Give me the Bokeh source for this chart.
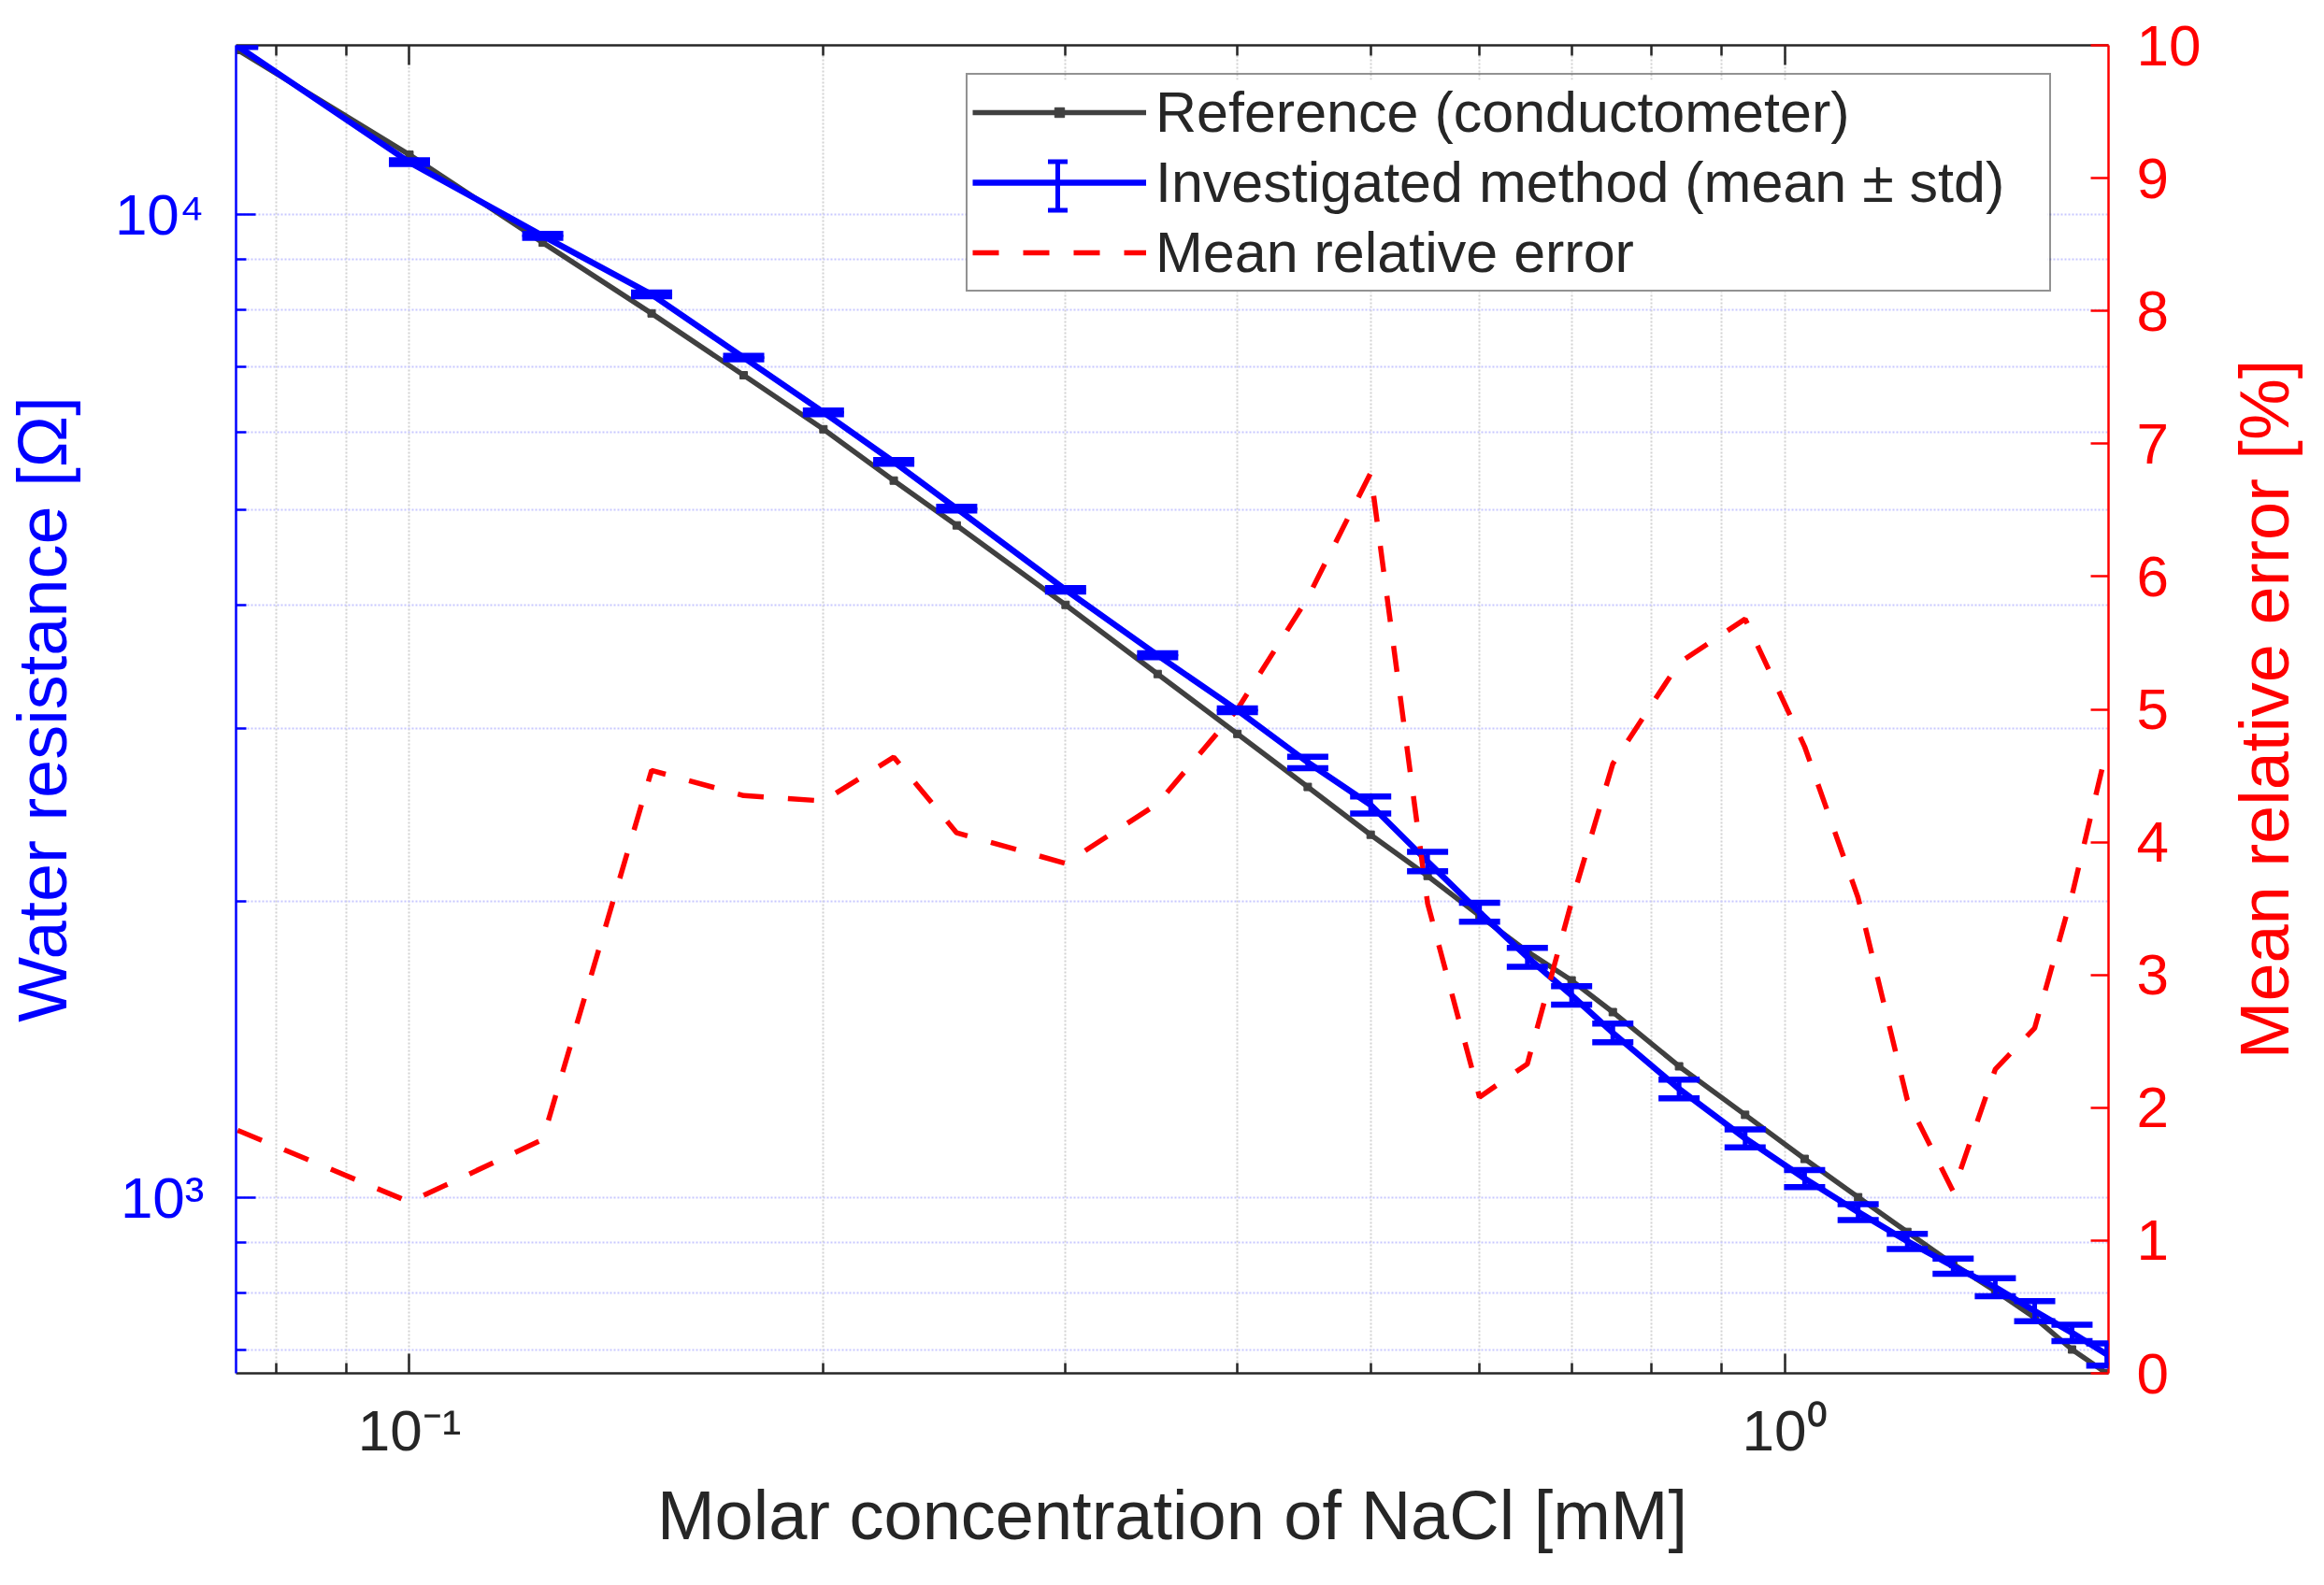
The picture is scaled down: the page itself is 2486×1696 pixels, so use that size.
import math
from bokeh.plotting import figure
from bokeh.layouts import row
from bokeh.models import (Range1d, LinearAxis, LogAxis, LinearScale, FixedTicker, Legend,
                          LegendItem, Whisker, TeeHead, ColumnDataSource, BoxAnnotation)
from bokeh.embed import file_html
from bokeh.resources import INLINE

# ---------------- data ----------------
conc_mM = [0.075, 0.100, 0.125, 0.150, 0.175, 0.200, 0.225, 0.250, 0.300, 0.350,
           0.400, 0.450, 0.500, 0.550, 0.600, 0.650, 0.700, 0.750, 0.838, 0.936,
           1.034, 1.131, 1.228, 1.326, 1.423, 1.520, 1.618, 1.715]
ref_ohm = [14700, 11500, 9360, 7930, 6860, 6045, 5360, 4826, 4006, 3407,
           2961, 2615, 2338, 2123, 1934, 1778, 1662, 1543, 1359, 1213,
           1094, 1000, 922, 855, 803, 754, 700, 662]
inv_mean_ohm = [14830, 11300, 9510, 8290, 7150, 6290, 5600, 5020, 4150, 3560,
                3130, 2770, 2507, 2196, 1950, 1755, 1605, 1470, 1289, 1148,
                1045, 966, 902, 851, 810, 766, 728, 692]
inv_std_ohm = [30, 50, 42, 36, 31, 28, 25, 22, 18, 16,
               14, 37, 50, 50, 43, 39, 35, 32, 28, 24,
               21, 18, 16, 15, 17, 18, 14, 18]
rel_err_pct = [1.83, 1.29, 1.76, 4.54, 4.35, 4.31, 4.64, 4.07, 3.84, 4.29,
               5.00, 5.84, 6.78, 3.54, 2.08, 2.33, 3.55, 4.59, 5.35, 5.68,
               4.72, 3.58, 2.06, 1.37, 2.29, 2.60, 3.60, 4.70]

x_major = [0.1, 1]
x_minor = [0.08, 0.09, 0.2, 0.3, 0.4, 0.5, 0.6, 0.7, 0.8, 0.9]
y_major = [1000, 10000]
y_minor = [700, 800, 900, 2000, 3000, 4000, 5000, 6000, 7000, 8000, 9000]
err_ticks = list(range(0, 11))
x_tick_labels = {0.1: "10\u207b\u00b9", 1: "10\u2070"}
y_tick_labels = {1000: "10\u00b3", 10000: "10\u2074"}

series_labels = ["Reference (conductometer)",
                 "Investigated method (mean \u00b1 std)",
                 "Mean relative error"]
x_title = "Molar concentration of NaCl [mM]"
y_title = "Water resistance [\u03a9]"
y2_title = "Mean relative error [%]"

# ---------------- styling ----------------
FONT = "Liberation Sans"
DARK = "#262626"
BLUE = "#0000ff"
RED = "#ff0000"
GRAY = "#404040"
TICK_FS = "62px"
LABEL_FS = "74px"
FIG_H = 1688
TOP_B = 48
BOT_B = 219

p = figure(width=2358, height=FIG_H, x_axis_type="log", y_axis_type="log",
           x_range=Range1d(0.0748, 1.72), y_range=Range1d(662, 14860),
           output_backend="svg", toolbar_location=None,
           min_border_left=249, min_border_right=103,
           min_border_top=TOP_B, min_border_bottom=BOT_B)
p.extra_y_ranges = {"err": Range1d(0, 10)}
p.extra_y_scales = {"err": LinearScale()}
p.outline_line_color = None
p.background_fill_color = "white"
p.border_fill_color = "white"

xt = FixedTicker(ticks=x_major, minor_ticks=x_minor)
yt = FixedTicker(ticks=y_major, minor_ticks=y_minor)


def style_axis(ax, color, tick_in=21, minor_in=11):
    ax.axis_line_color = color
    ax.axis_line_width = 2.5
    ax.major_tick_line_color = color
    ax.major_tick_line_width = 2.5
    ax.minor_tick_line_color = color
    ax.minor_tick_line_width = 2.5
    ax.major_tick_in = tick_in
    ax.major_tick_out = 0
    ax.minor_tick_in = minor_in
    ax.minor_tick_out = 0
    ax.major_label_text_color = color
    ax.major_label_text_font = FONT
    ax.major_label_text_font_size = TICK_FS
    ax.axis_label_text_color = color
    ax.axis_label_text_font = FONT
    ax.axis_label_text_font_size = LABEL_FS
    ax.axis_label_text_font_style = "normal"


# bottom x axis
xa = p.xaxis[0]
xa.ticker = xt
xa.major_label_overrides = x_tick_labels
xa.axis_label = x_title
style_axis(xa, DARK)
xa.major_label_standoff = 26
xa.axis_label_standoff = 12

# top x axis (box)
ta = LogAxis(ticker=xt)
style_axis(ta, DARK)
ta.major_label_text_alpha = 0
ta.major_label_text_font_size = "1px"
ta.major_label_standoff = 0
p.add_layout(ta, "above")

# left y axis
ya = p.yaxis[0]
ya.ticker = yt
ya.major_label_overrides = y_tick_labels
ya.axis_label = y_title
style_axis(ya, BLUE)
ya.major_label_standoff = 34
ya.axis_label_standoff = 33

# right y axis (ticks and numbers)
ra = LinearAxis(y_range_name="err", ticker=FixedTicker(ticks=err_ticks, minor_ticks=[]))
style_axis(ra, RED, tick_in=19, minor_in=0)
ra.major_label_standoff = 30
p.add_layout(ra, "right")

# grids
p.xgrid.ticker = xt
p.ygrid.ticker = yt
for g, c in ((p.xgrid, "#d2d2d2"), (p.ygrid, "#c8c8ff")):
    g.grid_line_color = c
    g.grid_line_width = 2
    g.grid_line_dash = "2 2"
    g.minor_grid_line_color = c
    g.minor_grid_line_width = 2
    g.minor_grid_line_dash = "2 2"

# ---------------- data renderers ----------------
gray_line = p.line(conc_mM, ref_ohm, line_color=GRAY, line_width=5.5)
gray_pts = p.scatter(conc_mM, ref_ohm, marker="square", size=8,
                     fill_color=GRAY, line_color=GRAY)
blue_line = p.line(conc_mM, inv_mean_ohm, line_color=BLUE, line_width=6.5)

err_src = ColumnDataSource(dict(
    x=conc_mM,
    upper=[m + s for m, s in zip(inv_mean_ohm, inv_std_ohm)],
    lower=[m - s for m, s in zip(inv_mean_ohm, inv_std_ohm)],
))
wh = Whisker(source=err_src, base="x", upper="upper", lower="lower",
             dimension="height", line_color=BLUE, line_width=5,
             upper_head=TeeHead(size=44, line_color=BLUE, line_width=6.5),
             lower_head=TeeHead(size=44, line_color=BLUE, line_width=6.5),
             level="annotation")
p.add_layout(wh)

red_line = p.line(conc_mM, rel_err_pct, line_color=RED, line_width=5.5,
                  line_dash="28 26", y_range_name="err")

# ---------------- legend ----------------
LG_X, LG_Y = 781, 1157
LG_PAD, LG_ITEM_H, LG_SPACING, LG_GLYPH_W, LG_STANDOFF, LG_LABEL_W = 5, 69, 5, 186, 10, 951
lg_h = 2 * LG_PAD + 3 * LG_ITEM_H + 2 * LG_SPACING
lg_w = 2 * LG_PAD + LG_GLYPH_W + LG_STANDOFF + LG_LABEL_W

# white legend background
p.add_layout(BoxAnnotation(left=LG_X, right=LG_X + lg_w, bottom=LG_Y, top=LG_Y + lg_h,
                           left_units="screen", right_units="screen",
                           bottom_units="screen", top_units="screen",
                           fill_color="white", fill_alpha=1.0, line_alpha=0))

# error-bar icon for the second legend entry
icon_x = LG_X + LG_PAD + LG_GLYPH_W / 2
icon_y = LG_Y + lg_h - LG_PAD - LG_ITEM_H - LG_SPACING - LG_ITEM_H / 2
icon_src = ColumnDataSource(dict(x=[icon_x], upper=[icon_y + 26], lower=[icon_y - 26]))
p.add_layout(Whisker(source=icon_src, base="x", upper="upper", lower="lower",
                     base_units="screen", upper_units="screen", lower_units="screen",
                     dimension="height", line_color=BLUE, line_width=5,
                     upper_head=TeeHead(size=21, line_color=BLUE, line_width=5),
                     lower_head=TeeHead(size=21, line_color=BLUE, line_width=5),
                     level="annotation"))

leg = Legend(items=[LegendItem(label=series_labels[0], renderers=[gray_line, gray_pts]),
                    LegendItem(label=series_labels[1], renderers=[blue_line]),
                    LegendItem(label=series_labels[2], renderers=[red_line])],
             location=(LG_X, LG_Y), orientation="vertical",
             padding=LG_PAD, spacing=LG_SPACING, margin=0,
             glyph_width=LG_GLYPH_W, glyph_height=26, label_height=LG_ITEM_H,
             label_width=LG_LABEL_W, label_standoff=LG_STANDOFF,
             label_text_font=FONT, label_text_font_size="61px",
             label_text_color=DARK, label_text_baseline="middle",
             border_line_color=DARK, border_line_width=2.5,
             background_fill_alpha=0.0)
p.add_layout(leg)

# ---------------- right-hand title strip (reads bottom-to-top) ----------------
p2 = figure(width=111, height=FIG_H, x_range=Range1d(0, 1), y_range=Range1d(0, 1),
            x_axis_location=None, y_axis_location="left",
            output_backend="svg", toolbar_location=None,
            min_border_left=109, min_border_right=0,
            min_border_top=TOP_B, min_border_bottom=BOT_B)
p2.outline_line_color = None
p2.background_fill_color = "white"
p2.border_fill_color = "white"
p2.grid.visible = False
y2 = p2.yaxis[0]
y2.ticker = FixedTicker(ticks=[], minor_ticks=[])
y2.axis_line_color = None
y2.major_tick_line_color = None
y2.minor_tick_line_color = None
y2.major_label_text_font_size = "1px"
y2.major_label_standoff = 0
y2.axis_label = y2_title
y2.axis_label_text_color = RED
y2.axis_label_text_font = FONT
y2.axis_label_text_font_size = LABEL_FS
y2.axis_label_text_font_style = "normal"
y2.axis_label_standoff = 4

layout = row(p, p2)
open("out.html", "w").write(file_html(layout, INLINE))
